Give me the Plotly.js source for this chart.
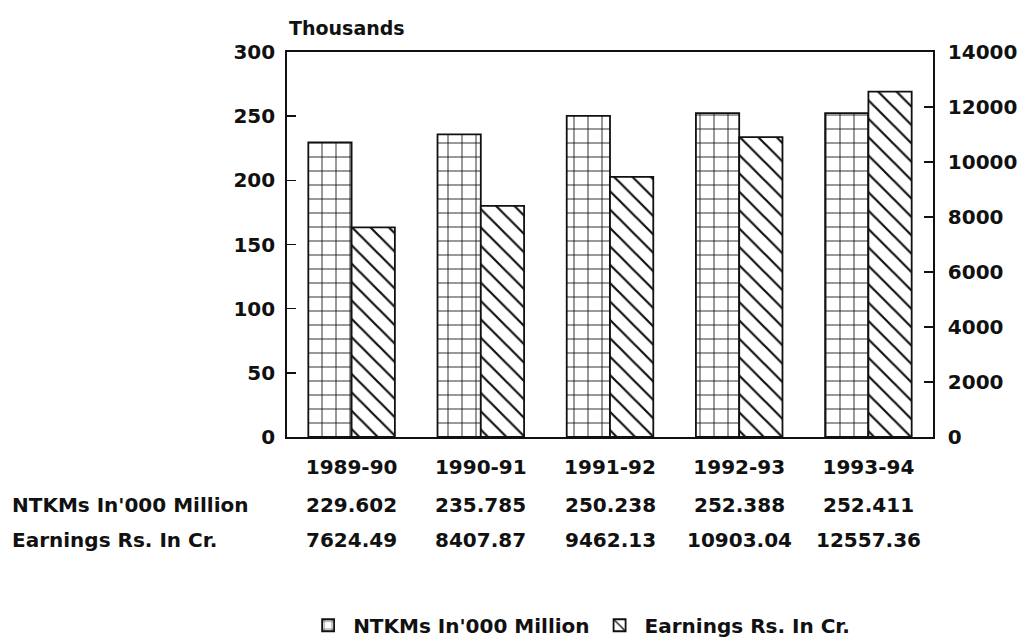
<!DOCTYPE html>
<html>
<head>
<meta charset="utf-8">
<script src="https://cdn.plot.ly/plotly-3.0.1.min.js"></script>
<style>html,body{margin:0;padding:0;background:#fff;}#chart{width:1025px;height:638px;}</style>
</head>
<body>
<div id="chart"></div>
<script>
const categories = ['1989-90', '1990-91', '1991-92', '1992-93', '1993-94'];
const ntkmName = "NTKMs In'000 Million";
const earningsName = 'Earnings Rs. In Cr.';
const ntkm = [229.602, 235.785, 250.238, 252.388, 252.411];
const earnings = [7624.49, 8407.87, 9462.13, 10903.04, 12557.36];
const ntkmLabels = ['229.602', '235.785', '250.238', '252.388', '252.411'];
const earningsLabels = ['7624.49', '8407.87', '9462.13', '10903.04', '12557.36'];
const leftTicks = [0, 50, 100, 150, 200, 250, 300];
const rightTicks = [0, 2000, 4000, 6000, 8000, 10000, 12000, 14000];

const FONT = 'DejaVu Sans, Liberation Sans, Arial, sans-serif';
const bold = (size) => ({family: FONT, size: size, color: '#111', weight: 'bold'});

const traces = [
  {
    type: 'bar', name: ntkmName, x: categories, y: ntkm, yaxis: 'y', offsetgroup: '1',
    marker: {color: '#fff', line: {color: '#111', width: 1.8},
             pattern: {shape: '+', fgcolor: '#111', bgcolor: '#fff', size: 14, solidity: 0.12}}
  },
  {
    type: 'bar', name: earningsName, x: categories, y: earnings, yaxis: 'y2', offsetgroup: '2',
    marker: {color: '#fff', line: {color: '#111', width: 1.8},
             pattern: {shape: '\\', fgcolor: '#111', bgcolor: '#fff', size: 13, solidity: 0.17}}
  }
];

const rowY1 = -0.177, rowY2 = -0.268;
const annotations = [
  {text: 'Thousands', xref: 'paper', yref: 'paper', x: 0.0, y: 1.062, xanchor: 'left', yanchor: 'middle', showarrow: false, font: bold(19)},
  {text: ntkmName, xref: 'paper', yref: 'paper', x: -0.4288, y: rowY1, xanchor: 'left', yanchor: 'middle', showarrow: false, font: bold(20)},
  {text: earningsName, xref: 'paper', yref: 'paper', x: -0.4288, y: rowY2, xanchor: 'left', yanchor: 'middle', showarrow: false, font: bold(20)}
];
categories.forEach((c, i) => {
  annotations.push({text: ntkmLabels[i], xref: 'x', yref: 'paper', x: c, y: rowY1, xanchor: 'center', yanchor: 'middle', showarrow: false, font: bold(20)});
  annotations.push({text: earningsLabels[i], xref: 'x', yref: 'paper', x: c, y: rowY2, xanchor: 'center', yanchor: 'middle', showarrow: false, font: bold(20)});
});

const layout = {
  width: 1025, height: 638,
  margin: {l: 287, r: 92, t: 52, b: 201, autoexpand: false},
  paper_bgcolor: '#fff', plot_bgcolor: '#fff',
  barmode: 'group', bargap: 0.33, bargroupgap: 0,
  showlegend: true,
  legend: {orientation: 'h', xref: 'container', yref: 'container', x: 0.565, y: 0.02,
           xanchor: 'center', yanchor: 'middle', font: bold(20), itemwidth: 40},
  xaxis: {
    type: 'category', showline: true, linecolor: '#111', linewidth: 1.8, mirror: true, automargin: false,
    ticks: '', showgrid: false, tickfont: bold(20), ticklabelstandoff: 11
  },
  yaxis: {
    range: [0, 300], tickvals: leftTicks, showline: true, linecolor: '#111', linewidth: 1.8, automargin: false,
    ticks: 'inside', ticklen: 9, tickcolor: '#111', tickwidth: 1.5, showgrid: false, zeroline: false,
    tickfont: bold(20), ticklabelstandoff: 6
  },
  yaxis2: {
    range: [0, 14000], tickvals: rightTicks, tickformat: 'd', overlaying: 'y', side: 'right', showline: true,
    automargin: false, linecolor: '#111', linewidth: 1.8, ticks: 'inside', ticklen: 9, tickcolor: '#111', tickwidth: 1.5,
    showgrid: false, zeroline: false, tickfont: bold(20), ticklabelstandoff: 9
  },
  annotations: annotations
};

Plotly.newPlot('chart', traces, layout, {staticPlot: true, displayModeBar: false});
</script>
</body>
</html>
